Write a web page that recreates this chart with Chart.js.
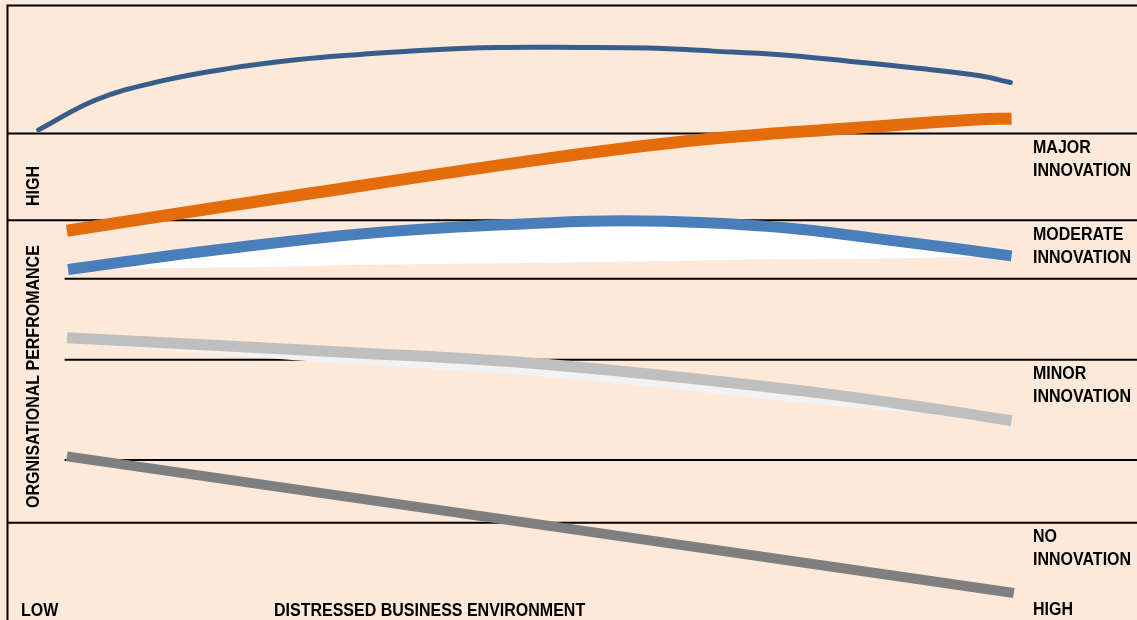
<!DOCTYPE html>
<html lang="en">
<head>
    <meta charset="UTF-8">
    <title>Innovation and performance</title>
    <script src="https://cdn.jsdelivr.net/npm/chart.js"></script>
    <style>
        html, body { margin: 0; padding: 0; background: #FDE9D9; overflow: hidden; }
        canvas { display: block; }
    </style>
</head>
<body>
    <canvas id="innovationChart" width="1137" height="620"></canvas>
    <script>
        // x: distressed business environment (0 = low, 100 = high)
        // y: organisational performance (0 = low, 100 = high)

        // top thin curve
        var peakX = [2.8, 7.9, 13.8, 19.7, 25.6, 31.5, 37.4, 43.4, 50.7, 56.6, 62.5, 68.4, 74.3, 80.2, 86.1, 88.8];
        var peakY = [79.7, 84.6, 87.7, 89.7, 91.1, 92.0, 92.7, 93.1, 93.1, 93.0, 92.5, 91.9, 90.9, 89.8, 88.5, 87.4];

        // major innovation
        var majorX = [5.3, 25.9, 48.1, 62.0, 76.6, 85.8, 88.9];
        var majorY = [63.3, 69.1, 75.1, 78.2, 80.2, 81.4, 81.5];

        // moderate innovation (and the white area under it)
        var moderateX = [5.4, 18.6, 33.3, 48.1, 54.5, 61.9, 69.3, 76.6, 84.0, 88.9];
        var moderateY = [57.0, 60.2, 63.1, 64.6, 64.9, 64.6, 63.7, 62.1, 60.4, 59.2];
        var moderateBaseY = [57.0, 57.3, 57.8, 58.1, 58.3, 58.5, 58.7, 58.8, 59.0, 59.2];

        // minor innovation (and its pale shadow)
        var minorX = [5.3, 30.4, 48.1, 70.2, 82.6, 88.9];
        var minorY = [45.9, 43.5, 41.5, 37.3, 34.2, 32.4];
        var minorShadowX = [5.3, 25.9, 48.1, 70.2, 82.6, 88.9];
        var minorShadowY = [45.9, 43.0, 40.3, 36.2, 34.0, 32.4];

        // no innovation
        var noneX = [5.3, 89.1];
        var noneY = [26.6, 4.4];

        // band rules: level and where each starts
        var ruleY = [79.1, 65.0, 55.5, 42.3, 26.0, 15.8];
        var ruleStartX = [0, 0, 5.1, 5.1, 5.1, 0];

        // texts
        var bandLabels = [['MAJOR', 'INNOVATION'], ['MODERATE', 'INNOVATION'], ['MINOR', 'INNOVATION'], ['NO', 'INNOVATION']];
        var xAxisLabels = ['LOW', 'DISTRESSED BUSINESS ENVIRONMENT', 'HIGH'];
        var yAxisLabels = ['ORGNISATIONAL PERFROMANCE', 'HIGH'];

        function pts(xs, ys) {
            return xs.map(function (x, i) { return { x: x, y: ys[i] }; });
        }

        function curve(label, xs, ys, color, width, extra) {
            var ds = {
                label: label,
                data: pts(xs, ys),
                borderColor: color,
                borderWidth: width,
                pointRadius: 0,
                fill: false,
                tension: 0.4,
                borderCapStyle: 'butt'
            };
            return Object.assign(ds, extra || {});
        }

        var datasets = [
            curve('Peak', peakX, peakY, '#385D8A', 5, { borderCapStyle: 'round' }),
            curve('Major innovation', majorX, majorY, '#E46C0A', 12),
            curve('Moderate innovation', moderateX, moderateY, '#4A7EBB', 11, { fill: '+1', backgroundColor: '#FFFFFF' }),
            curve('Moderate base', moderateX, moderateBaseY, 'rgba(0,0,0,0)', 0),
            curve('Minor innovation', minorX, minorY, '#BFBFBF', 11),
            curve('Minor shadow', minorShadowX, minorShadowY, '#F2F2F2', 10),
            curve('No innovation', noneX, noneY, '#7F7F7F', 10)
        ];

        ruleY.forEach(function (y, i) {
            datasets.push({
                label: 'rule' + i,
                data: [{ x: ruleStartX[i], y: y }, { x: 100, y: y }],
                borderColor: '#000000',
                borderWidth: 2,
                pointRadius: 0,
                fill: false
            });
        });

        var FONT = 'bold 16px "Liberation Sans", Arial, sans-serif';
        var STRETCH = 1.12;

        function label(ctx, text, x, y, angle) {
            ctx.save();
            ctx.translate(x, y);
            if (angle) ctx.rotate(angle);
            ctx.scale(1, STRETCH);
            ctx.fillText(text, 0, 0);
            ctx.restore();
        }

        var backdrop = {
            id: 'backdrop',
            beforeDraw: function (chart) {
                var ctx = chart.ctx;
                ctx.save();
                ctx.fillStyle = '#FDE9D9';
                ctx.fillRect(0, 0, chart.width, chart.height);
                ctx.restore();
            },
            afterDraw: function (chart) {
                var ctx = chart.ctx;
                var area = chart.chartArea;
                ctx.save();
                // frame
                ctx.strokeStyle = '#000000';
                ctx.lineWidth = 2;
                ctx.beginPath();
                ctx.moveTo(area.left + 0.5, chart.height);
                ctx.lineTo(area.left + 0.5, area.top + 0.5);
                ctx.lineTo(chart.width, area.top + 0.5);
                ctx.stroke();

                ctx.fillStyle = '#000000';
                ctx.font = FONT;
                ctx.textBaseline = 'alphabetic';
                ctx.textAlign = 'left';

                var bandBase = [153, 240, 379, 542];
                bandLabels.forEach(function (lines, i) {
                    lines.forEach(function (t, j) {
                        label(ctx, t, 1033, bandBase[i] + j * 23.3);
                    });
                });

                label(ctx, xAxisLabels[0], 21, 616);
                label(ctx, xAxisLabels[1], 274, 616);
                label(ctx, xAxisLabels[2], 1033, 615);

                label(ctx, yAxisLabels[0], 39, 508, -Math.PI / 2);
                label(ctx, yAxisLabels[1], 39, 206, -Math.PI / 2);
                ctx.restore();
            }
        };

        var ctx = document.getElementById('innovationChart').getContext('2d');
        var innovationChart = new Chart(ctx, {
            type: 'line',
            data: { datasets: datasets },
            options: {
                responsive: false,
                animation: false,
                layout: { padding: { left: 7, top: 5, right: 0, bottom: 0 } },
                scales: {
                    x: { type: 'linear', min: 0, max: 100, display: false },
                    y: { type: 'linear', min: 0, max: 100, display: false }
                },
                plugins: {
                    legend: { display: false },
                    tooltip: { enabled: false }
                }
            },
            plugins: [backdrop]
        });
    </script>
</body>
</html>
